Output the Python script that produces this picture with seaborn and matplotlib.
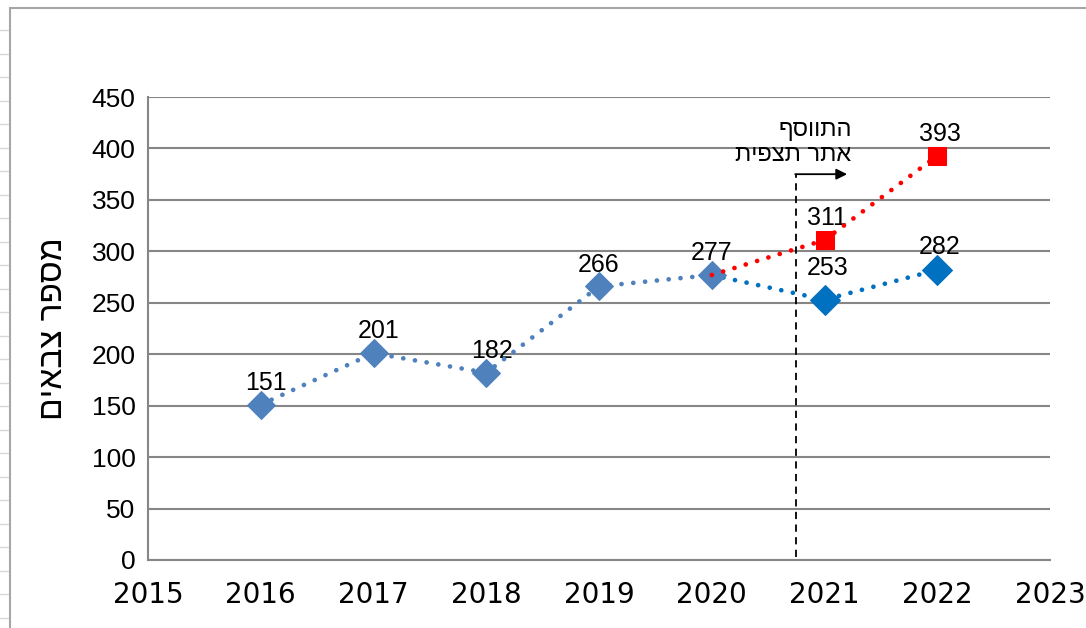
import numpy as np
import pandas as pd
import matplotlib
matplotlib.use("Agg")
import matplotlib.pyplot as plt
import seaborn as sns
from matplotlib.patches import Rectangle
from matplotlib.lines import Line2D

# data
years_old = [2016, 2017, 2018, 2019, 2020]
counts_old = [151, 201, 182, 266, 277]
years_new = [2020, 2021, 2022]
counts_new = [277, 253, 282]          # same sites as before
counts_all = [277, 311, 393]          # with the added observation site
x_ticks = list(range(2015, 2024))
y_ticks = list(range(0, 451, 50))

ylabel_text = "מספר צבאים"
note_text = "התווסף\nאתר תצפית"
site_added_x = 2020.75


def rtl(s):
    # matplotlib has no bidi support: reverse each line for display
    return "\n".join(line[::-1] for line in s.split("\n"))


sns.set_style("white")
plt.rcParams['font.family'] = ['Liberation Sans', 'DejaVu Sans']
plt.rcParams['text.color'] = 'black'
plt.rcParams['xtick.color'] = 'black'
plt.rcParams['ytick.color'] = 'black'
plt.rcParams['axes.labelcolor'] = 'black'

fig = plt.figure(figsize=(10.86, 6.28), dpi=100)
ax = fig.add_axes([0.1363, 0.1083, 0.8306, 0.7372])

grid_c = '#868686'
old_blue = '#4f81bd'
new_blue = '#0070c0'
red = '#ff0000'
dots = (0, (0.01, 2.5))

df_old = pd.DataFrame({'year': years_old, 'n': counts_old})
df_new = pd.DataFrame({'year': years_new, 'n': counts_new})
df_all = pd.DataFrame({'year': years_new, 'n': counts_all})

sns.lineplot(data=df_old, x='year', y='n', ax=ax, color=old_blue, lw=3.4,
             linestyle=dots, dash_capstyle='round', marker='D', markersize=14,
             markeredgecolor=old_blue, zorder=4)
sns.lineplot(data=df_new, x='year', y='n', ax=ax, color=new_blue, lw=3.4,
             linestyle=dots, dash_capstyle='round', marker='D', markersize=15,
             markeredgecolor=new_blue, markevery=[1, 2], zorder=3)
sns.lineplot(data=df_all, x='year', y='n', ax=ax, color=red, lw=3.4,
             linestyle=dots, dash_capstyle='round', marker='s', markersize=13,
             markeredgecolor=red, markevery=[1, 2], zorder=5)

# value labels
lab_kw = dict(fontsize=18, ha='center', va='bottom', textcoords='offset points')
for x, y in zip(years_old, counts_old):
    dx = 4 if x in (2016, 2017, 2018) else 0
    ax.annotate(str(y), (x, y), xytext=(dx, 7), **lab_kw)
for x, y in zip(years_new[1:], counts_new[1:]):
    ax.annotate(str(y), (x, y), xytext=(2, 14 if x == 2021 else 8), **lab_kw)
for x, y in zip(years_new[1:], counts_all[1:]):
    ax.annotate(str(y), (x, y), xytext=(2, 7), **lab_kw)

# observation site added
ax.plot([site_added_x, site_added_x], [3, 375], color='black', lw=1.3,
        linestyle=(0, (4, 3)), zorder=6)
ax.annotate('', xy=(2021.2, 375), xytext=(site_added_x - 0.01, 375),
            arrowprops=dict(arrowstyle='-|>', color='black', lw=1.3,
                            mutation_scale=16, shrinkA=0, shrinkB=0), zorder=6)
ax.text(2021.24, 383, rtl(note_text), ha='right', va='bottom', fontsize=17,
        multialignment='right', linespacing=1.15)

ax.set_xlim(2015, 2023)
ax.set_ylim(0, 450)
ax.set_xticks(x_ticks)
ax.set_yticks(y_ticks)
ax.set_xticklabels([str(t) for t in x_ticks], fontsize=20,
                   family=['DejaVu Sans Condensed', 'DejaVu Sans'])
ax.tick_params(axis='y', labelsize=19, length=6, width=1.5, color=grid_c, direction='out', pad=3)
ax.tick_params(axis='x', length=6, width=1.5, color=grid_c, direction='out', pad=9)
ax.yaxis.grid(True, color=grid_c, lw=1.5)
ax.set_axisbelow(True)
for side in ('top', 'right'):
    ax.spines[side].set_visible(False)
for side in ('left', 'bottom'):
    ax.spines[side].set_color(grid_c)
    ax.spines[side].set_linewidth(1.5)

ax.set_xlabel('')
ax.set_ylabel(rtl(ylabel_text), fontsize=24, labelpad=16)

# spreadsheet chart frame
fig.patches.append(Rectangle((10 / 1086, -0.1), 1.2, 1 - 8 / 628 + 0.1,
                             transform=fig.transFigure, fill=False,
                             edgecolor='#a6a6a6', lw=1.5))
for yy in np.arange(30, 628, 23.5):
    fig.lines.append(Line2D([0, 8 / 1086], [1 - yy / 628] * 2, transform=fig.transFigure,
                            color='#d8d8d8', lw=1))

fig.savefig('out.png', dpi=100)
